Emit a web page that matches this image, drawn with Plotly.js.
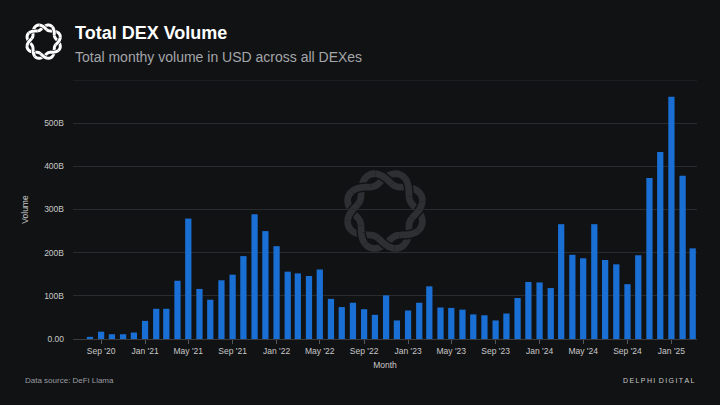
<!DOCTYPE html>
<html>
<head>
<meta charset="utf-8">
<script src="https://cdn.plot.ly/plotly-3.0.1.min.js"></script>
<style>
  html, body { margin: 0; padding: 0; background: #111214; }
  #chart { width: 720px; height: 405px; }
</style>
</head>
<body>
<div id="chart"></div>
<script>
// monthly DEX volume, billions USD (Aug 2020 .. Mar 2025)
months = [
  '2020-08', '2020-09', '2020-10', '2020-11', '2020-12',
  '2021-01', '2021-02', '2021-03', '2021-04', '2021-05', '2021-06', '2021-07', '2021-08', '2021-09', '2021-10', '2021-11', '2021-12',
  '2022-01', '2022-02', '2022-03', '2022-04', '2022-05', '2022-06', '2022-07', '2022-08', '2022-09', '2022-10', '2022-11', '2022-12',
  '2023-01', '2023-02', '2023-03', '2023-04', '2023-05', '2023-06', '2023-07', '2023-08', '2023-09', '2023-10', '2023-11', '2023-12',
  '2024-01', '2024-02', '2024-03', '2024-04', '2024-05', '2024-06', '2024-07', '2024-08', '2024-09', '2024-10', '2024-11', '2024-12',
  '2025-01', '2025-02', '2025-03'
];
volumeB = [
  5, 17, 11, 11, 15,
  42, 70, 70, 135, 279, 116, 91, 136, 149, 192, 289, 250,
  215, 156, 152, 146, 161, 93, 74, 84, 69, 56, 101, 43,
  66, 84, 122, 73, 72, 68, 57, 55, 43, 59, 95, 132,
  131, 118, 266, 195, 187, 266, 183, 173, 127, 194, 373, 433,
  561, 378, 210
];
yTicks = [0, 100, 200, 300, 400, 500];
yTickText = ['0.00', '100B', '200B', '300B', '400B', '500B'];

BG = '#111214';
GRID = '#2a2b2f';
FONT = 'Liberation Sans, Arial, sans-serif';

// braided ring logo as inline svg
function logo(color, bg) {
  var R = 37, a = 7, sw = 7.5;
  function strand(sign, t0, t1) {
    var d = '', n = 80;
    for (var i = 0; i <= n; i++) {
      var t = t0 + (t1 - t0) * i / n;
      var r = R + sign * a * Math.sin(4 * t);
      d += (i ? 'L' : 'M') + (r * Math.cos(t)).toFixed(2) + ' ' + (r * Math.sin(t)).toFixed(2);
    }
    return d;
  }
  var s = '<svg xmlns="http://www.w3.org/2000/svg" viewBox="-50 -50 100 100">';
  s += '<path d="' + strand(1, 0, 2 * Math.PI) + 'Z" fill="none" stroke="' + color + '" stroke-width="' + sw + '"/>';
  s += '<path d="' + strand(-1, 0, 2 * Math.PI) + 'Z" fill="none" stroke="' + color + '" stroke-width="' + sw + '"/>';
  for (var k = 0; k < 8; k++) {
    var c = k * Math.PI / 4, sign = (k % 2) ? 1 : -1;
    var p = strand(sign, c - 0.25, c + 0.25);
    s += '<path d="' + p + '" fill="none" stroke="' + bg + '" stroke-width="' + (sw + 3) + '"/>';
    s += '<path d="' + p + '" fill="none" stroke="' + color + '" stroke-width="' + sw + '"/>';
  }
  s += '</svg>';
  return 'data:image/svg+xml;base64,' + btoa(s);
}

x = months.map(function (m) { return m + '-01'; });

CHART = document.getElementById('chart');
layout = {
  width: 720,
  height: 405,
  paper_bgcolor: BG,
  plot_bgcolor: 'rgba(0,0,0,0)',
  margin: {l: 73, r: 23, t: 80, b: 66},
  showlegend: false,
  bargap: 0.38,
  font: {family: FONT, color: '#c8c8c8', size: 8.5},
  xaxis: {
    type: 'date',
    range: ['2020-06-15', '2025-03-13'],
    tick0: '2020-09-01',
    dtick: 'M4',
    tickformat: "%b '%y",
    ticks: 'outside',
    ticklen: 4,
    tickcolor: '#55575c',
    showgrid: false,
    showline: true,
    linecolor: '#3a3c40',
    tickfont: {size: 8.5, color: '#c8c8c8'},
    title: {text: 'Month', font: {size: 8.5, color: '#c8c8c8'}, standoff: 6},
  },
  yaxis: {
    range: [0, 600],
    tickvals: yTicks,
    ticktext: yTickText,
    showgrid: true,
    gridcolor: GRID,
    zeroline: false,
    ticks: '',
    ticklabelstandoff: 8,
    tickfont: {size: 8.5, color: '#c8c8c8'},
    title: {text: 'Volume', font: {size: 8.5, color: '#c8c8c8'}, standoff: 14},
  },
  shapes: [
    {type: 'line', xref: 'paper', yref: 'y', x0: 0, x1: 1, y0: 600, y1: 600,
     line: {color: GRID, width: 1}},
  ],
  images: [
    {source: logo('#ffffff', BG), xref: 'paper', yref: 'paper',
     x: -0.047, y: 1.148, sizex: 0.064, sizey: 0.155,
     xanchor: 'center', yanchor: 'middle', sizing: 'contain', layer: 'above'},
    {source: logo('#2e2f33', BG), xref: 'paper', yref: 'paper',
     x: 0.5, y: 0.494, sizex: 0.144, sizey: 0.348,
     xanchor: 'center', yanchor: 'middle', sizing: 'contain', layer: 'below'},
  ],
  annotations: [
    {text: '<b>Total DEX Volume</b>', xref: 'paper', yref: 'paper', x: 0.0, y: 1.181,
     xanchor: 'left', yanchor: 'middle', showarrow: false,
     font: {size: 18, color: '#ffffff', family: FONT}},
    {text: 'Total monthy volume in USD across all DEXes', xref: 'paper', yref: 'paper', x: 0.0, y: 1.089,
     xanchor: 'left', yanchor: 'middle', showarrow: false,
     font: {size: 14, color: '#a4a6aa', family: FONT}},
    {text: 'Data source: DeFi Llama', xref: 'paper', yref: 'paper', x: -0.08, y: -0.16,
     xanchor: 'left', yanchor: 'middle', showarrow: false,
     font: {size: 8, color: '#9a9ca0', family: FONT}},
    {text: 'D\u2009E\u2009L\u2009P\u2009H\u2009I\u2002D\u2009I\u2009G\u2009I\u2009T\u2009A\u2009L', xref: 'paper', yref: 'paper', x: 1.0, y: -0.16,
     xanchor: 'right', yanchor: 'middle', showarrow: false,
     font: {size: 7, color: '#c8c8c8', family: FONT}},
  ],
};

Plotly.newPlot(CHART, [
  {
    x: x,
    y: volumeB,
    type: 'bar',
    marker: {color: '#1a6fd4'},
    hoverinfo: 'skip',
  }], layout, {staticPlot: true});
</script>
</body>
</html>
